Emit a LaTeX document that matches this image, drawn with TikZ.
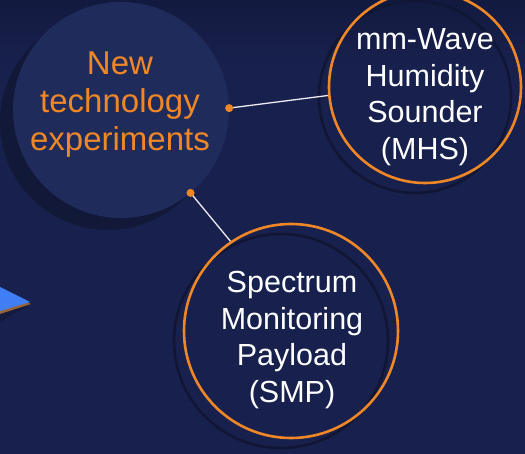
\documentclass[tikz,border=0pt]{standalone}
\usepackage{fontspec}
\setmainfont{Liberation Sans}
\definecolor{bgnavy}{RGB}{24,33,78}
\definecolor{bgdeep}{RGB}{19,26,64}
\definecolor{hubfill}{RGB}{31,43,90}
\definecolor{hubshade}{RGB}{18,24,56}
\definecolor{ringshade}{RGB}{16,22,52}
\definecolor{accent}{RGB}{240,135,38}
\definecolor{pointer}{RGB}{64,126,246}
\definecolor{pointeredge}{RGB}{150,100,60}
\begin{document}
\begin{tikzpicture}[x=1pt,y=-1pt,
  hub/.style={circle,fill=hubfill,minimum size=216pt,inner sep=0pt},
  hubshadow/.style={circle,fill=hubshade,minimum size=216pt,inner sep=0pt},
  payload/.style={circle,draw=accent,line width=2.6pt,inner sep=0pt},
  payloadshadow/.style={circle,draw=ringshade,line width=2.6pt,inner sep=0pt},
  hublabel/.style={text=accent,align=center,font=\fontsize{33}{38}\selectfont},
  payloadlabel/.style={text=white,align=center,font=\fontsize{30.5}{36.5}\selectfont},
  dot/.style={circle,fill=accent,minimum size=8pt,inner sep=0pt},
  link/.style={draw=white!92!bgnavy,line width=1.3pt}]
  % canvas with a slightly darker band along the top
  \useasboundingbox (0,0) rectangle (525,454);
  \clip (0,0) rectangle (525,454);
  \fill[bgnavy] (0,0) rectangle (525,454);
  \shade[top color=bgdeep,bottom color=bgnavy] (0,0) rectangle (525,70);

  % pointer arrow entering from the left
  \fill[hubshade,opacity=0.7] (0,296) -- (28,306) -- (0,322) -- cycle;
  \fill[pointeredge] (0,289) -- (31,304) -- (0,314) -- cycle;
  \fill[pointer] (0,287) -- (30,302) -- (0,311) -- cycle;

  % central hub with its cast shadow
  \node[hubshadow] at (108,122) {};
  \node[hub] (hub) at (121,110) {};
  \node[hublabel] (hubtext) at (120,105) {New\\technology\\experiments};

  % payload circles
  \node[payloadshadow,minimum size=192pt] at (415,97) {};
  \node[payload,minimum size=192pt] (mhs) at (425,87) {};
  \node[payloadlabel] (mhstext) at (425,97) {mm-Wave\\Humidity\\Sounder\\(MHS)};

  \node[payloadshadow,minimum size=214pt] at (281,341) {};
  \node[payload,minimum size=214pt] (smp) at (291,331) {};
  \node[payloadlabel] (smptext) at (292,340) {Spectrum\\Monitoring\\Payload\\(SMP)};

  % connectors from the hub
  \coordinate (a1) at (hub.1);
  \coordinate (a2) at (hub.-50);
  \draw[link] (a1) -- (mhs.185);
  \draw[link] (a2) -- (smp.124);
  \node[dot] (d1) at (a1) {};
  \node[dot] (d2) at (a2) {};
\end{tikzpicture}
\end{document}
